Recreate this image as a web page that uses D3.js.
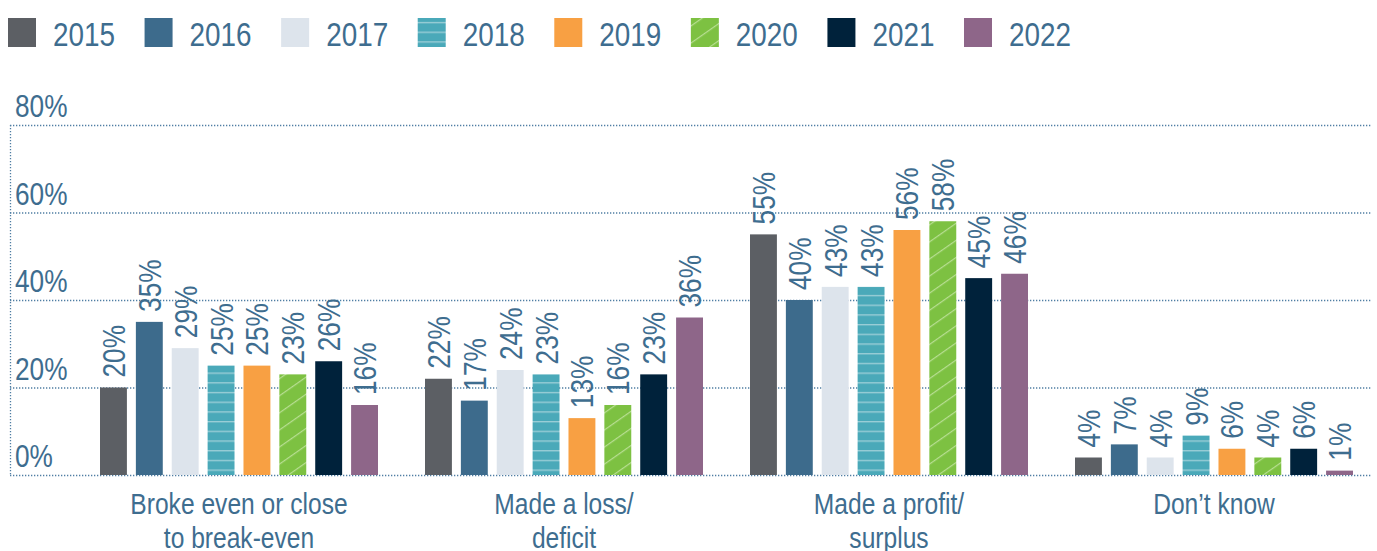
<!DOCTYPE html>
<html>
<head>
<meta charset="utf-8">
<script src="https://cdn.jsdelivr.net/npm/d3@7"></script>
<style>
  body { margin: 0; background: #fff; }
  svg { display: block; }
  text { font-family: "Liberation Sans", Arial, sans-serif; fill: #3e6d8f; }
</style>
</head>
<body>
<svg></svg>
<script>
// chart data
var categories = ["Broke even or close|to break-even", "Made a loss/|deficit", "Made a profit/|surplus", "Don\u2019t know"];
var years = ["2015", "2016", "2017", "2018", "2019", "2020", "2021", "2022"];
var brokeEven = [20, 35, 29, 25, 25, 23, 26, 16];
var madeLoss = [22, 17, 24, 23, 13, 16, 23, 36];
var madeProfit = [55, 40, 43, 43, 56, 58, 45, 46];
var dontKnow = [4, 7, 4, 9, 6, 4, 6, 1];
var yTicks = [0, 20, 40, 60, 80];

var series = [brokeEven, madeLoss, madeProfit, dontKnow];
var colors = ["#5c5f64", "#3d6b8c", "#dde4ec", "#4aa9b9", "#f8a043", "#7dc142", "#00223b", "#8e6689"];

var width = 1377,
    height = 551;

// no condensed face installed, squeeze text horizontally instead
var squeeze = 0.82;

var svg = d3.select("svg")
    .attr("width", width)
    .attr("height", height);

// patterns for 2018 and 2020
var defs = svg.append("defs");
var p18 = defs.append("pattern")
    .attr("id", "pat2018")
    .attr("patternUnits", "userSpaceOnUse")
    .attr("width", 10).attr("height", 9.7);
p18.append("rect").attr("width", 10).attr("height", 9.7).attr("fill", colors[3]);
p18.append("rect").attr("y", 4).attr("width", 10).attr("height", 1.2).attr("fill", "#a6d4dc");

var p20 = defs.append("pattern")
    .attr("id", "pat2020")
    .attr("patternUnits", "userSpaceOnUse")
    .attr("width", 14).attr("height", 14)
    .attr("patternTransform", "rotate(-35)");
p20.append("rect").attr("width", 14).attr("height", 14).attr("fill", colors[5]);
p20.append("rect").attr("y", 6).attr("width", 14).attr("height", 1.2).attr("fill", "#b8de93");

function fillFor(i) {
  if (i === 3) return "url(#pat2018)";
  if (i === 5) return "url(#pat2020)";
  return colors[i];
}

// scales
var y = d3.scaleLinear().domain([0, 80]).range([475, 125]);
var x0 = d3.scaleBand().domain(categories).range([76.5, 1376.5]);
var x1 = d3.scaleBand().domain(years).range([23.5, 301.5]).paddingInner(0.25);

// gridlines + axis
var grid = svg.append("g");
grid.selectAll("line.grid")
    .data(yTicks)
  .enter().append("line")
    .attr("class", "grid")
    .attr("x1", 10).attr("x2", 1371)
    .attr("y1", function(d) { return y(d) + 0.5; })
    .attr("y2", function(d) { return y(d) + 0.5; })
    .attr("stroke", "#4f7ea3")
    .attr("stroke-width", 1.3)
    .attr("stroke-dasharray", "1.3,1.7");

grid.append("line")
    .attr("x1", 10.5).attr("x2", 10.5)
    .attr("y1", y(80)).attr("y2", y(0))
    .attr("stroke", "#4f7ea3")
    .attr("stroke-width", 1.3)
    .attr("stroke-dasharray", "1.3,1.7");

grid.selectAll("text.tick")
    .data(yTicks)
  .enter().append("text")
    .attr("class", "tick")
    .attr("transform", function(d) { return "translate(15," + (y(d) - 8) + ")scale(" + squeeze + ",1)"; })
    .style("font-size", "32px")
    .text(function(d) { return d + "%"; });

// bars
var groups = svg.selectAll("g.cat")
    .data(categories)
  .enter().append("g")
    .attr("class", "cat")
    .attr("transform", function(d) { return "translate(" + x0(d) + ",0)"; });

groups.each(function(c, ci) {
  var g = d3.select(this);
  var vals = series[ci];

  g.selectAll("rect")
      .data(vals)
    .enter().append("rect")
      .attr("x", function(d, i) { return x1(years[i]); })
      .attr("y", function(d) { return y(d); })
      .attr("width", x1.bandwidth())
      .attr("height", function(d) { return y(0) - y(d); })
      .attr("fill", function(d, i) { return fillFor(i); });

  g.selectAll("text.val")
      .data(vals)
    .enter().append("text")
      .attr("class", "val")
      .attr("transform", function(d, i) {
        return "translate(" + (x1(years[i]) + x1.bandwidth() / 2) + "," + (y(d) - 10) + ")rotate(-90)scale(" + squeeze + ",1)";
      })
      .attr("dy", "0.36em")
      .style("font-size", "32px")
      .text(function(d) { return d + "%"; });

  var lines = c.split("|");
  g.append("text")
      .attr("transform", "translate(" + (x0.bandwidth() / 2) + ",514)scale(" + squeeze + ",1)")
      .attr("text-anchor", "middle")
      .style("font-size", "30px")
    .selectAll("tspan")
      .data(lines)
    .enter().append("tspan")
      .attr("x", 0)
      .attr("dy", function(d, i) { return i ? 34 : 0; })
      .text(function(d) { return d; });
});

// legend
var lx = d3.scalePoint().domain(years).range([8, 964]);
var legend = svg.selectAll("g.legend")
    .data(years)
  .enter().append("g")
    .attr("class", "legend")
    .attr("transform", function(d) { return "translate(" + lx(d) + ",18)"; });

legend.append("rect")
    .attr("width", 28).attr("height", 29)
    .attr("fill", function(d, i) { return fillFor(i); });

legend.append("text")
    .attr("transform", "translate(45,28)scale(" + squeeze + ",1)")
    .style("font-size", "34px")
    .text(function(d) { return d; });
</script>
</body>
</html>
